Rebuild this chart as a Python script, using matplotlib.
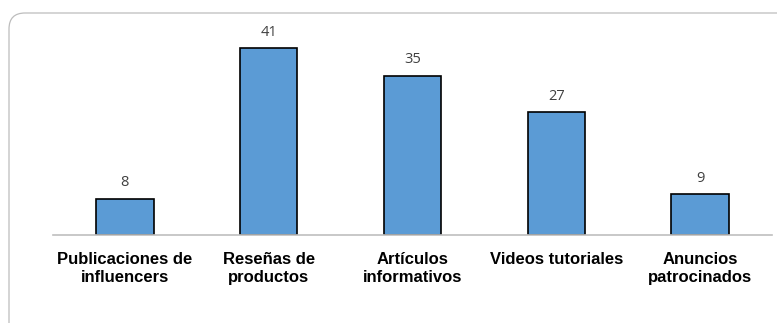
import matplotlib.pyplot as plt
from matplotlib.patches import FancyBboxPatch

categorias = ["Publicaciones de\ninfluencers", "Reseñas de\nproductos",
              "Artículos\ninformativos", "Videos tutoriales",
              "Anuncios\npatrocinados"]
valores = [8, 41, 35, 27, 9]

fig = plt.figure(figsize=(7.77, 3.23), dpi=100)
ax = fig.add_axes([53 / 777, 88 / 323, 719 / 777, 205 / 323])

# marco redondeado del grafico (en pulgadas)
marco = FancyBboxPatch((0.09, -0.5), 8.0, 3.10 + 0.5,
                       boxstyle="round,pad=0,rounding_size=0.16",
                       transform=fig.dpi_scale_trans, fill=False,
                       edgecolor="#BDBDBD", linewidth=0.9)
fig.patches.append(marco)

x = range(len(valores))
barras = ax.bar(x, valores, width=0.4, color="#5B9BD5",
                edgecolor="black", linewidth=1.2)
for xi, v in zip(x, valores):
    ax.annotate(str(v), (xi, v), xytext=(0, 6), textcoords="offset points",
                ha="center", va="bottom", fontsize=10.5,
                color="#404040", family="Open Sans")

ax.set_xlim(-0.5, 4.5)
ax.set_ylim(0, 45)
ax.set_xticks(list(x))
ax.set_xticklabels(categorias, fontsize=12, fontweight="bold",
                   family="Liberation Sans", linespacing=1.3)
ax.tick_params(axis="x", length=0, pad=12)
ax.set_yticks([])
for s in ["top", "right", "left"]:
    ax.spines[s].set_visible(False)
ax.spines["bottom"].set_color("#BFBFBF")
ax.spines["bottom"].set_linewidth(1.2)

fig.savefig("out.png", dpi=100)
